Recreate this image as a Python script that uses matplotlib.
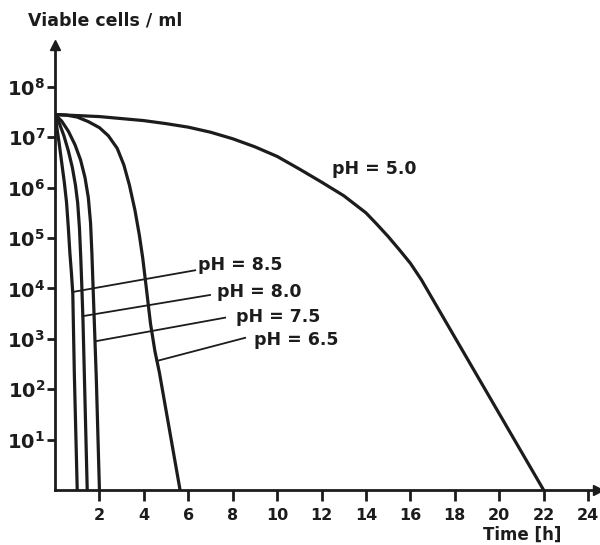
import numpy as np
import matplotlib.pyplot as plt
from matplotlib.ticker import NullLocator

plt.rcParams['font.family'] = 'DejaVu Sans'
plt.rcParams['font.weight'] = 'bold'
plt.rcParams['mathtext.fontset'] = 'custom'
plt.rcParams['mathtext.rm'] = 'DejaVu Sans:bold'
plt.rcParams['mathtext.it'] = 'DejaVu Sans:bold'
plt.rcParams['mathtext.bf'] = 'DejaVu Sans:bold'

# time [h] and log10(viable cells / ml)
t_50 = [0, 1, 2, 3, 4, 5, 6, 7, 8, 9, 10, 11, 12, 13, 14, 14.5, 15, 15.5, 16, 16.5, 17, 22]
lg_50 = [7.45, 7.43, 7.41, 7.37, 7.33, 7.27, 7.2, 7.1, 6.97, 6.81, 6.62, 6.37, 6.11, 5.84,
         5.5, 5.27, 5.03, 4.77, 4.5, 4.17, 3.79, 0]

t_65 = [0, 0.5, 1.0, 1.5, 2.0, 2.4, 2.8, 3.1, 3.35, 3.6, 3.8, 3.95, 4.1, 4.3, 4.5, 4.7, 5.63]
lg_65 = [7.45, 7.44, 7.40, 7.31, 7.19, 7.03, 6.78, 6.45, 6.05, 5.55, 5.05, 4.6, 4.05, 3.3,
         2.75, 2.33, 0]

t_75 = [0, 0.3, 0.6, 0.9, 1.15, 1.35, 1.5, 1.6, 1.66, 1.72, 1.8, 1.86, 2.0]
lg_75 = [7.45, 7.32, 7.12, 6.85, 6.55, 6.2, 5.8, 5.3, 4.7, 3.95, 2.95, 2.2, 0]

t_80 = [0, 0.2, 0.4, 0.6, 0.78, 0.92, 1.02, 1.1, 1.16, 1.21, 1.26, 1.32, 1.45]
lg_80 = [7.45, 7.27, 7.03, 6.73, 6.4, 6.05, 5.7, 5.2, 4.6, 4.0, 3.35, 2.3, 0]

t_85 = [0, 0.08, 0.18, 0.3, 0.42, 0.52, 0.6, 0.67, 0.74, 0.8, 0.87, 1.0]
lg_85 = [7.45, 7.2, 6.9, 6.5, 6.1, 5.7, 5.2, 4.7, 4.3, 3.9, 2.3, 0]

# label leaders: (t, log10) on the curve -> (t, log10) near the text
labels = ['pH = 8.5', 'pH = 8.0', 'pH = 7.5', 'pH = 6.5']
lead_t0 = [0.80, 1.25, 1.80, 4.58]
lead_lg0 = [3.93, 3.45, 2.95, 2.56]
lead_t1 = [6.31, 6.98, 7.66, 8.56]
lead_lg1 = [4.36, 3.87, 3.42, 3.02]
text_t = [6.45, 7.3, 8.15, 8.95]
text_lg = [4.46, 3.92, 3.43, 2.97]

xticks = [2, 4, 6, 8, 10, 12, 14, 16, 18, 20, 22, 24]
yexps = [1, 2, 3, 4, 5, 6, 7, 8]

fig = plt.figure(figsize=(6, 5.45), dpi=100)
ax = fig.add_axes([0.0917, 0.1009, 0.905, 0.8165])

ink = '#1c1c1c'
for t, lg in [(t_50, lg_50), (t_65, lg_65), (t_75, lg_75), (t_80, lg_80), (t_85, lg_85)]:
    ax.plot(t, 10 ** np.array(lg), color=ink, lw=2.3)

for i in range(len(labels)):
    ax.plot([lead_t0[i], lead_t1[i]], [10 ** lead_lg0[i], 10 ** lead_lg1[i]], color=ink, lw=1.3)
    ax.text(text_t[i], 10 ** text_lg[i], labels[i], fontsize=12.5, ha='left', va='center', color=ink)
ax.text(12.45, 10 ** 6.36, 'pH = 5.0', fontsize=12.5, ha='left', va='center', color=ink)

ax.set_yscale('log')
ax.set_xlim(0, 24.45)
ax.set_ylim(1, 10 ** 8.83)
ax.set_yticks([10.0 ** k for k in yexps])
ax.set_yticklabels([f'$10^{{{k}}}$' for k in yexps])
ax.yaxis.set_minor_locator(NullLocator())
ax.set_xticks(xticks)
ax.set_xticklabels([str(v) for v in xticks])

for s in ['top', 'right']:
    ax.spines[s].set_visible(False)
for s in ['left', 'bottom']:
    ax.spines[s].set_linewidth(2)
    ax.spines[s].set_color(ink)

ax.tick_params(axis='y', length=6, width=2, pad=1, labelsize=14, colors=ink)
ax.tick_params(axis='x', length=8, width=2, pad=5, labelsize=11.5, colors=ink)

# arrow heads on the axes
ax.plot(0, 1, '^', ms=7, color=ink, transform=ax.transAxes, clip_on=False)
ax.plot(1, 0, '>', ms=7, color=ink, transform=ax.transAxes, clip_on=False)

fig.text(0.176, 0.963, 'Viable cells / ml', fontsize=12.5, ha='center', va='center', color=ink)
fig.text(0.87, 0.018, 'Time [h]', fontsize=12, ha='center', va='center', color=ink)

fig.savefig('out.png', dpi=100)
